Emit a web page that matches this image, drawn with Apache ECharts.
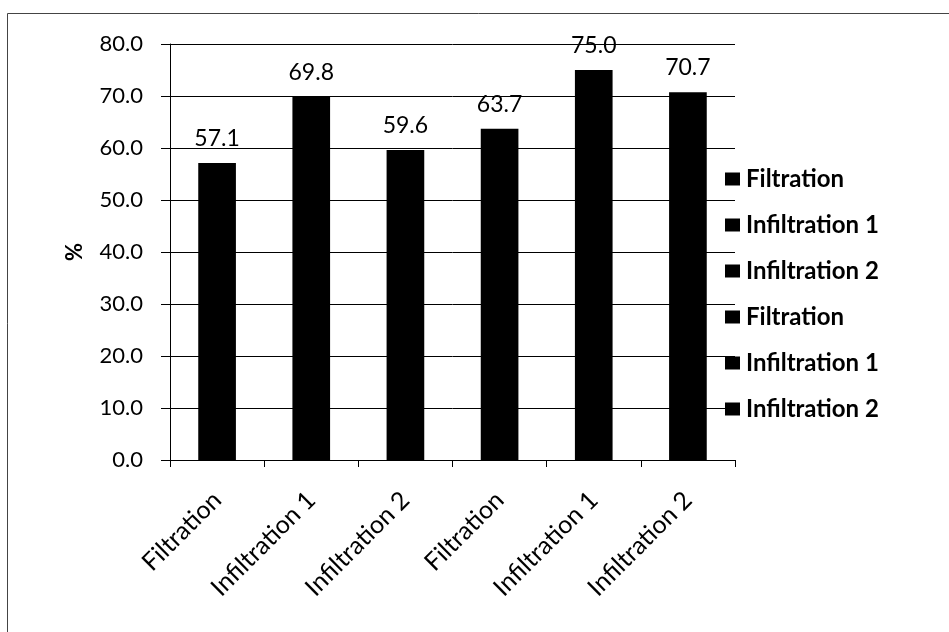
<!DOCTYPE html>
<html>
<head>
<meta charset="utf-8">
<script src="https://cdn.jsdelivr.net/npm/echarts@6/dist/echarts.min.js"></script>
<style>
  html, body { margin: 0; padding: 0; background: #fff; }
  #chart { width: 949px; height: 632px; }
</style>
</head>
<body>
<div id="chart"></div>
<script>
// Treatment categories along the x axis
const categories = ['Filtration', 'Infiltration 1', 'Infiltration 2', 'Filtration', 'Infiltration 1', 'Infiltration 2'];
// Percentage for each category
const values = [57.1, 69.8, 59.6, 63.7, 75.0, 70.7];
// Y axis range and step
const yMin = 0;
const yMax = 80;
const yStep = 10;

const FONT = 'Lato, "Open Sans", sans-serif';

// One series per bar so that each gets its own legend entry; they share a stack
// so every bar sits centred in its category band.
const series = categories.map(function (cat, i) {
  return {
    name: cat + '#' + i,
    type: 'bar',
    stack: 'all',
    barWidth: '40%',
    itemStyle: { color: '#000' },
    label: {
      show: true,
      position: 'top',
      distance: 13,
      color: '#000',
      fontFamily: FONT,
      fontSize: 23,
      formatter: function (p) { return Number(p.value).toFixed(1); }
    },
    data: categories.map(function (_, j) { return j === i ? values[i] : '-'; })
  };
});

const chart = echarts.init(document.getElementById('chart'));
chart.setOption({
  backgroundColor: '#fff',
  animation: false,
  grid: { left: 170, right: 214, top: 44, bottom: 172 },
  graphic: [{
    type: 'rect',
    shape: { x: 7.5, y: 13.5, width: 1000, height: 700 },
    style: { fill: 'none', stroke: '#444', lineWidth: 1 },
    silent: true,
    z: -1
  }],
  legend: {
    orient: 'vertical',
    left: 720,
    top: 162,
    itemGap: 22,
    itemWidth: 15,
    itemHeight: 13,
    icon: 'rect',
    data: series.map(function (s) { return s.name; }),
    formatter: function (name) { return name.split('#')[0]; },
    textStyle: { color: '#000', fontFamily: FONT, fontSize: 24, fontWeight: 'bold', padding: [0, 0, 0, 1] }
  },
  xAxis: {
    type: 'category',
    data: categories,
    axisLine: { lineStyle: { color: '#000', width: 1 } },
    axisTick: { show: true, length: 7, alignWithLabel: false, lineStyle: { color: '#000' } },
    axisLabel: {
      rotate: 45,
      margin: 36,
      color: '#000',
      fontFamily: FONT,
      fontSize: 25,
      interval: 0
    }
  },
  yAxis: {
    type: 'value',
    min: yMin,
    max: yMax,
    interval: yStep,
    name: '%',
    nameLocation: 'middle',
    nameRotate: 90,
    nameGap: 84,
    nameTextStyle: { color: '#000', fontFamily: FONT, fontSize: 22, fontWeight: 'bold' },
    axisLine: { show: true, lineStyle: { color: '#000', width: 1 } },
    axisTick: { show: true, length: 9, lineStyle: { color: '#000' } },
    axisLabel: {
      margin: 27,
      color: '#000',
      fontFamily: FONT,
      fontSize: 22,
      formatter: function (v) { return v.toFixed(1); }
    },
    splitLine: { show: true, lineStyle: { color: '#000', width: 1 } }
  },
  series: series
});
</script>
</body>
</html>
